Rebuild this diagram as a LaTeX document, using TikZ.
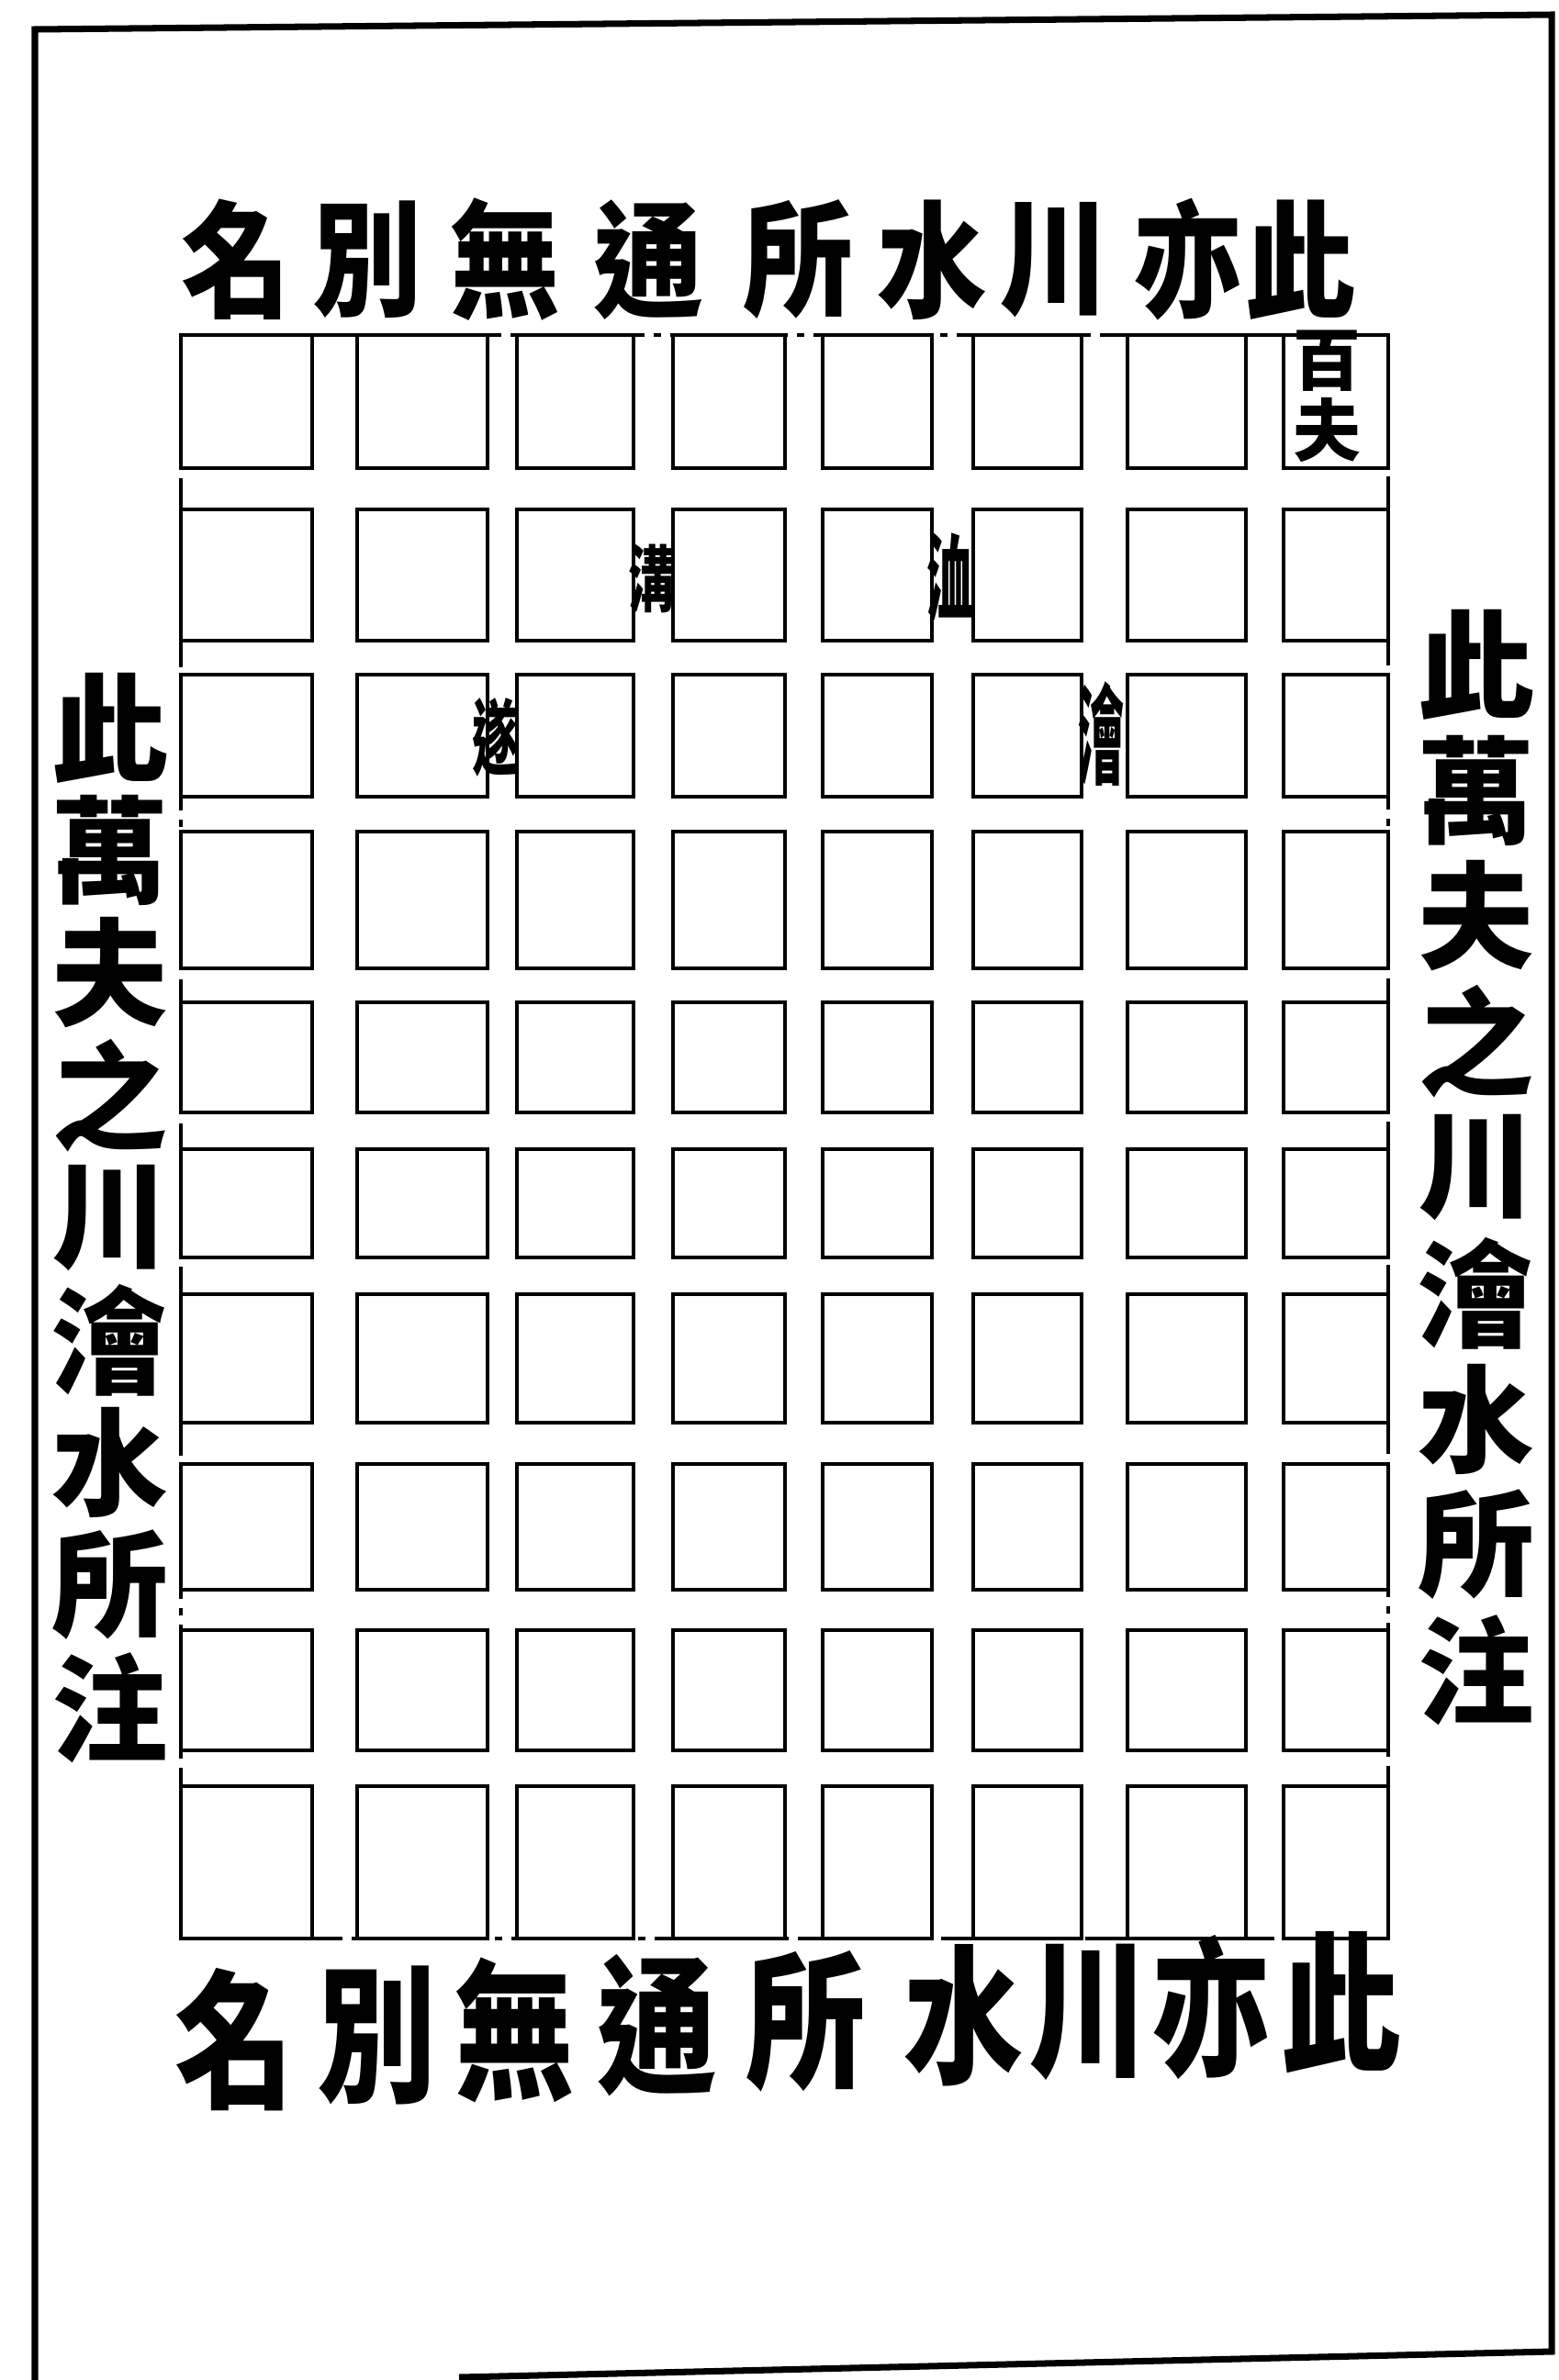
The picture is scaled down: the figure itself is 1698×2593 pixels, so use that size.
\documentclass[tikz,border=0pt]{standalone}
\usepackage{fontspec}
\newfontfamily\cjk{Noto Sans CJK TC}
\newcommand\stretchch[2]{\scalebox{1}[#1]{#2}}

\begin{document}
\begin{tikzpicture}[x=0.01cm, y=-0.01cm,
  frame/.style={line width=2pt},
  field/.style={line width=1.2pt},
  border/.style={line width=1.3pt, dash pattern=on 5mm off 1mm on 0.8mm off 1mm},
  big/.style={font=\cjk\bfseries\fontsize{34}{34}\selectfont, inner sep=0pt},
  low/.style={font=\cjk\bfseries\fontsize{37}{37}\selectfont, inner sep=0pt},
  side/.style={font=\cjk\bfseries\fontsize{36}{36}\selectfont, inner sep=0pt},
  tag/.style={font=\cjk\bfseries\fontsize{16}{16}\selectfont, inner sep=0pt}]

  \useasboundingbox (0,0) rectangle (1698,2593);

  % page frame
  \draw[frame] (38,2593) -- (38,32) -- (1690,16) -- (1690,2562) -- (500,2590);

  % fields: eight columns, ten rows, channels between them
  \foreach \xa/\xb in {197/340, 389/531, 563/690, 733/855, 896/1015, 1060/1178, 1228/1357, 1398/1512}
    \foreach \ya/\yb in {365/510, 555/698, 735/868, 906/1055, 1092/1212, 1252/1370, 1410/1550, 1595/1732, 1776/1907, 1946/2112}
      \draw[field] (\xa,\ya) rectangle (\xb,\yb);

  % outer border of the fields
  \draw[border] (197,365) rectangle (1512,2112);

  % channel names
  \node[tag, align=center, font=\cjk\bfseries\fontsize{21}{22}\selectfont] (baifu) at (1445,432) {百\\夫};
  \foreach \ch/\x/\y/\s [count=\i] in {溝/710/630/1.4, 洫/1035/628/1.8, 遂/540/803/1.6, 澮/1200/800/2.1}
    \node[tag] (tag\i) at (\x,\y) {\scalebox{0.9}[\s]{\ch}};

  % top and bottom lines, read from the right
  \foreach \ch/\x [count=\i] in {名/257, 別/400, 無/550, 通/706, 所/869, 水/1015, 川/1148, 亦/1294, 此/1416}
    \node[big] (top\i) at (\x,283) {\stretchch{1.15}{\ch}};
  \foreach \ch/\x/\y [count=\i] in {名/256/2222, 別/411/2217, 無/561/2212, 通/716/2207, 所/878/2202, 水/1050/2196, 川/1186/2192, 亦/1320/2187, 此/1461/2182}
    \node[low] (bot\i) at (\x,\y) {\stretchch{1.25}{\ch}};

  % side columns
  \foreach \ch [count=\i] in {此,萬,夫,之,川,澮,水,所,注}{
    \node[side] (left\i) at (120,{793+133.4*(\i-1)}) {\ch};
    \node[side] (right\i) at (1608,{724+137*(\i-1)}) {\ch};
  }
\end{tikzpicture}
\end{document}
